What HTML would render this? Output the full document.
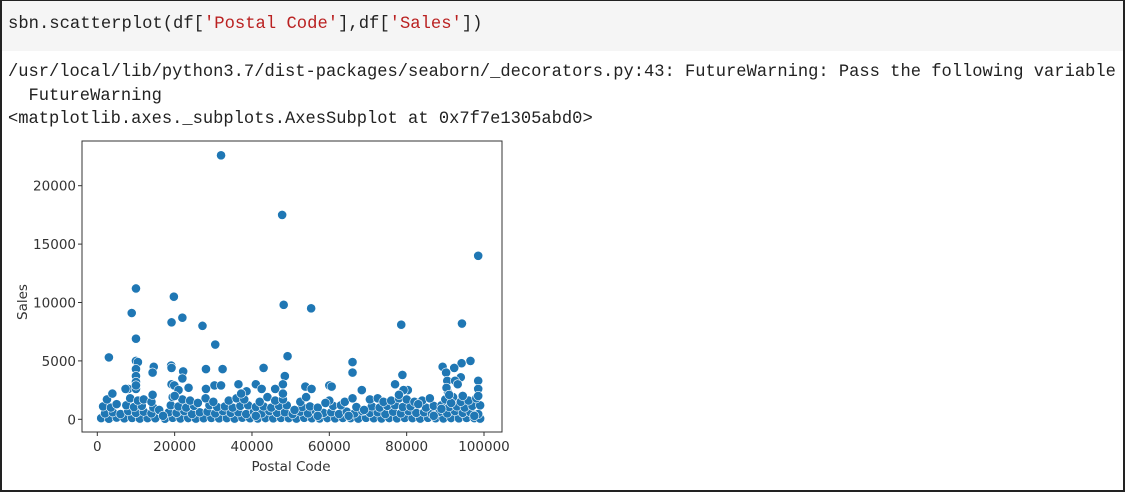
<!DOCTYPE html>
<html><head><meta charset="utf-8">
<style>
html,body{margin:0;padding:0;background:#fff;}
body{width:1125px;height:493px;position:relative;overflow:hidden;font-family:"Liberation Sans",sans-serif;}
#frame{position:absolute;left:0;top:0;width:1121px;height:489px;border:2px solid #222;border-top:1px solid #222;}
#code{position:absolute;left:2px;top:1px;width:1121px;height:50px;background:#f5f5f5;}
#code pre{margin:0;position:absolute;left:6px;top:14px;font-family:"Liberation Mono",monospace;font-size:17.2px;color:#222;}
.str{color:#ba2121;}
.out{position:absolute;left:8px;font-family:"Liberation Mono",monospace;font-size:17.1px;color:#222;white-space:pre;}
svg{position:absolute;left:0;top:0;}
</style></head><body>
<div id="frame"></div>
<div id="code"><pre>sbn.scatterplot(df[<span class="str">'Postal Code'</span>],df[<span class="str">'Sales'</span>])</pre></div>
<div class="out" style="top:63px">/usr/local/lib/python3.7/dist-packages/seaborn/_decorators.py:43: FutureWarning: Pass the following variable</div>
<div class="out" style="top:87px">  FutureWarning</div>
<div class="out" style="top:110px">&lt;matplotlib.axes._subplots.AxesSubplot at 0x7f7e1305abd0&gt;</div>
<svg id="chart" width="1125" height="493"></svg>
<script>
const xTicks=[0,20000,40000,60000,80000,100000];
const yTicks=[0,5000,10000,15000,20000];
const outlierPoints=[[32000,22600],[47800,17500],[98500,14000],[10000,11200],[19800,10500],[48200,9800],[55300,9500],[8900,9100],[22000,8700],[19200,8300],[78600,8100],[94300,8200],[27200,8000],[10000,6900],[30500,6400],[3000,5300],[49200,5400],[10000,5000],[10500,4900],[96500,5000],[66000,4900],[94200,4800],[14600,4500],[19100,4600],[89300,4500],[92300,4400],[43000,4400],[28100,4300],[32400,4300],[19200,4400],[22200,4100],[14300,4000],[66000,4000],[10000,4300],[90200,4000],[48500,3700],[78900,3800],[10000,3700],[94000,3600],[22000,3500],[98500,3300],[90500,3300],[92500,3300],[48000,3000],[36500,3000],[41000,3000],[77000,3000],[19200,3000],[19900,2900],[30300,2900],[32000,2900],[53800,2800],[60000,2900],[60600,2800],[93200,3000],[8000,2600],[7300,2600],[28100,2600],[42500,2600],[46000,2600],[55400,2600],[68400,2500],[80300,2500],[79200,2500],[98500,2600],[23600,2700],[3900,2200],[10000,2600],[21000,2500],[38600,2400],[37200,2200],[90700,2300],[14300,2100],[10000,3200],[10000,2900],[90300,2700],[91000,2100],[94500,2000],[98500,2000],[78000,2100],[20000,2000],[48000,2200]];
const bandPoints=[
[1000,100],[3000,50],[5000,150],[7000,80],[9000,120],[11000,60],[13000,100],[15000,90],[17500,50],[19500,130],[21500,70],[23500,110],[25500,60],[27500,90],[29500,120],[31500,80],[33500,100],[35500,60],[37500,140],[39500,90],[41500,70],[43500,110],[45500,80],[47500,120],[49500,100],[51500,60],[53500,130],[55500,90],[57500,70],[59500,110],[61500,80],[63500,120],[65500,100],[67500,60],[69500,130],[71500,90],[73500,70],[75500,110],[77500,80],[79500,120],[81500,100],[83500,60],[85500,130],[87500,90],[89500,70],[91500,110],[93500,80],[95500,120],[97500,100],[99000,60],
[2000,500],[4000,600],[6000,450],[8000,700],[10000,550],[12000,650],[14000,500],[18500,600],[20500,550],[22500,700],[24500,450],[26500,600],[28500,650],[30500,500],[32500,700],[34500,550],[36500,600],[38500,450],[40500,650],[42500,500],[44500,700],[46500,550],[48500,600],[50500,450],[52500,650],[54500,500],[56500,700],[58500,550],[60500,600],[62500,450],[64500,650],[66500,500],[68500,700],[70500,550],[72500,600],[74500,450],[76500,650],[78500,500],[80500,700],[82500,550],[84500,600],[86500,450],[88500,650],[90500,500],[92500,700],[94500,550],[96500,600],[98500,450],
[1500,1100],[3500,1000],[7500,1200],[9500,1050],[11500,1150],[14500,1000],[19000,1200],[21000,1100],[23000,1000],[25000,1150],[29000,1200],[31000,1050],[33000,1100],[35000,1000],[37000,1150],[39000,1200],[41000,1050],[43000,1100],[45000,1000],[47000,1150],[49000,1200],[53000,1050],[55000,1100],[57000,1000],[61000,1150],[63000,1200],[67000,1050],[71000,1100],[73000,1000],[75000,1150],[77000,1200],[79000,1050],[81000,1100],[85000,1000],[87000,1150],[89000,1200],[91000,1050],[93000,1100],[95000,1000],[97000,1150],[99000,1200],
[2500,1700],[8500,1800],[10500,1600],[12000,1700],[14000,1500],[19500,1900],[22000,1700],[24000,1600],[28000,1800],[30000,1500],[34000,1600],[36000,1800],[38000,1700],[42000,1500],[44000,1900],[46000,1600],[48000,1700],[52500,1500],[54000,1900],[60000,1600],[64000,1500],[66000,1800],[70500,1700],[72500,1800],[74000,1500],[76000,1600],[78000,1800],[80000,1700],[82000,1500],[84000,1600],[86000,1800],[90000,1700],[92000,1900],[94000,1500],[96000,1600],[98000,1800],
[5000,1300],[16000,800],[17000,300],[26000,1400],[41000,300],[51000,800],[57000,300],[59000,1400],[65000,300],[69000,800],[83000,1300],[87000,300],[89000,900],[91500,1400],[97500,300]];
const svg=document.getElementById('chart');
const NS='http://www.w3.org/2000/svg';
const L=82,T=141,R=502,B=432;
const sx=v=>97.3+v*(484-97.3)/100000;
const sy=v=>419.3-v*(419.3-185.7)/20000;
function mk(t,a){const e=document.createElementNS(NS,t);for(const k in a)e.setAttribute(k,a[k]);svg.appendChild(e);return e;}
const g=document.createElementNS(NS,'g');


svg.appendChild(g);
bandPoints.concat(outlierPoints).forEach(p=>{
  const c=document.createElementNS(NS,'circle');
  c.setAttribute('cx',sx(p[0]));c.setAttribute('cy',sy(p[1]));c.setAttribute('r',4.6);
  c.setAttribute('fill','#1f77b4');c.setAttribute('stroke','#fff');c.setAttribute('stroke-width','0.6');
  
  
  g.appendChild(c);
});
const fr=mk('rect',{x:L,y:T,width:R-L,height:B-T,fill:'none',stroke:'#333','stroke-width':1});


const F='DejaVu Sans, sans-serif';
xTicks.forEach(v=>{
  const x=sx(v);
  mk('line',{x1:x,x2:x,y1:B,y2:B+4,stroke:'#333'});
  const t=mk('text',{x:x,y:B+19,'text-anchor':'middle','font-size':13.5,fill:'#333','font-family':F});
  t.textContent=v;
  
  
});
yTicks.forEach(v=>{
  const y=sy(v);
  mk('line',{x1:L-4,x2:L,y1:y,y2:y,stroke:'#333'});
  const t=mk('text',{x:L-6,y:y+5,'text-anchor':'end','font-size':13.5,fill:'#333','font-family':F});
  t.textContent=v;
  
  
});
const xl=mk('text',{x:291,y:471,'text-anchor':'middle','font-size':13.5,fill:'#333','font-family':F});
xl.textContent='Postal Code';


const yl=mk('text',{x:0,y:0,'text-anchor':'middle','font-size':13.5,fill:'#333','font-family':F,transform:'translate(27,302) rotate(-90)'});
yl.textContent='Sales';


</script>
</body></html>
